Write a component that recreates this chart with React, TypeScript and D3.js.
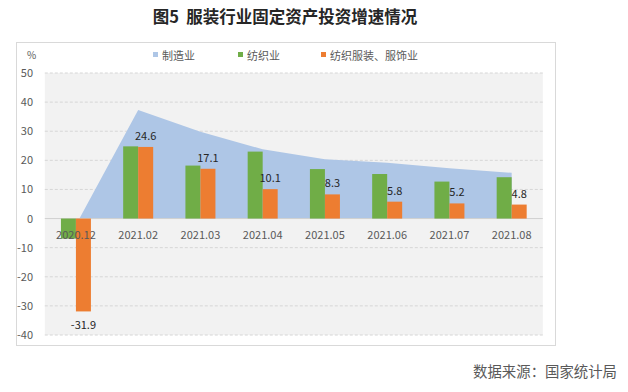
import * as d3 from "d3";

const categories = ["2020.12", "2021.02", "2021.03", "2021.04", "2021.05", "2021.06", "2021.07", "2021.08"];
const manufacturing = [-2.2, 37.3, 29.8, 23.8, 20.4, 19.2, 17.3, 15.7];
const textile = [-6.9, 24.8, 18.2, 23.0, 17.0, 15.3, 12.7, 14.2];
const apparel = [-31.9, 24.6, 17.1, 10.1, 8.3, 5.8, 5.2, 4.8];
const yTicks = [50, 40, 30, 20, 10, 0, -10, -20, -30, -40];
const legendItems = [
  { name: "制造业", color: "#aec6e6" },
  { name: "纺织业", color: "#70ad47" },
  { name: "纺织服装、服饰业", color: "#ed7d31" },
];

const FONT = "'Noto Sans CJK SC', 'Noto Sans', sans-serif";

export default function App() {
  const width = 628;
  const height = 392;
  const plot = { left: 44.8, right: 542.8, top: 73, bottom: 335 };

  const x = d3.scaleBand<string>()
    .domain(categories)
    .range([plot.left, plot.right])
    .paddingInner(0.518)
    .paddingOuter(0.259);

  const sub = d3.scaleBand<string>()
    .domain(["textile", "apparel"])
    .range([0, x.bandwidth()]);

  const y = d3.scaleLinear().domain([-40, 50]).range([plot.bottom, plot.top]);

  const center = (c: string) => (x(c) ?? 0) + x.bandwidth() / 2;

  const area = d3.area<number>()
    .x((_, i) => center(categories[i]))
    .y0(y(0))
    .y1((d) => y(d));

  const bar = (v: number) => ({ top: y(Math.max(0, v)), h: Math.abs(y(v) - y(0)) });

  return (
    <svg width={width} height={height} style={{ position: "absolute", left: 0, top: 0, background: "#fff" }} fontFamily={FONT}>
      {/* title */}
      <text x={285} y={23} textAnchor="middle" fontSize={16.5} fontWeight="bold" fill="#262626">
        {"图5\u00a0\u00a0服装行业固定资产投资增速情况"}
      </text>

      {/* chart frame */}
      <rect x={16.5} y={42.5} width={539} height={303} fill="#fff" stroke="#d9d9d9" />

      {/* plot background */}
      <rect x={plot.left} y={plot.top} width={plot.right - plot.left} height={plot.bottom - plot.top} fill="#f2f2f2" />

      {/* gridlines */}
      {yTicks.filter((t) => t !== 0).map((t) => (
        <line key={t} x1={plot.left} x2={plot.right} y1={y(t)} y2={y(t)} stroke="#d6d6d6" strokeDasharray="3,2" />
      ))}

      {/* manufacturing area */}
      <path d={area(manufacturing) ?? ""} fill="#aec6e6" />

      {/* zero line */}
      <line x1={plot.left} x2={plot.right} y1={y(0)} y2={y(0)} stroke="#d0d0d0" />

      {/* bars */}
      {categories.map((c, i) => {
        const g = bar(textile[i]);
        const o = bar(apparel[i]);
        const x0 = x(c) ?? 0;
        return (
          <g key={c}>
            <rect x={x0 + (sub("textile") ?? 0)} y={g.top} width={sub.bandwidth()} height={g.h} fill="#70ad47" />
            <rect x={x0 + (sub("apparel") ?? 0)} y={o.top} width={sub.bandwidth()} height={o.h} fill="#ed7d31" />
          </g>
        );
      })}

      {/* data labels */}
      {categories.map((c, i) => {
        const v = apparel[i];
        const cx = (x(c) ?? 0) + (sub("apparel") ?? 0) + sub.bandwidth() / 2;
        const ly = v >= 0 ? y(v) - 7 : y(v) + 18;
        return (
          <text key={c} x={cx} y={ly} textAnchor="middle" fontSize={11} fill="#262626">
            {v.toFixed(1)}
          </text>
        );
      })}

      {/* x labels */}
      {categories.map((c) => (
        <text key={c} x={center(c)} y={239} textAnchor="middle" fontSize={11} fill="#595959">
          {c}
        </text>
      ))}

      {/* y labels */}
      {yTicks.map((t) => (
        <text key={t} x={33} y={y(t) + 4} textAnchor="end" fontSize={11} fill="#595959">
          {t}
        </text>
      ))}
      <text x={31.5} y={59} textAnchor="middle" fontSize={10} fill="#595959">%</text>

      {/* legend */}
      {legendItems.map((d, i) => {
        const lx = [153, 238, 321][i];
        return (
          <g key={d.name}>
            <rect x={lx} y={52} width={5} height={5} fill={d.color} />
            <text x={lx + 9} y={59.5} fontSize={11} fill="#595959">{d.name}</text>
          </g>
        );
      })}

      {/* source */}
      <text x={617} y={377} textAnchor="end" fontSize={14.4} fill="#595959">
        数据来源：国家统计局
      </text>
    </svg>
  );
}
